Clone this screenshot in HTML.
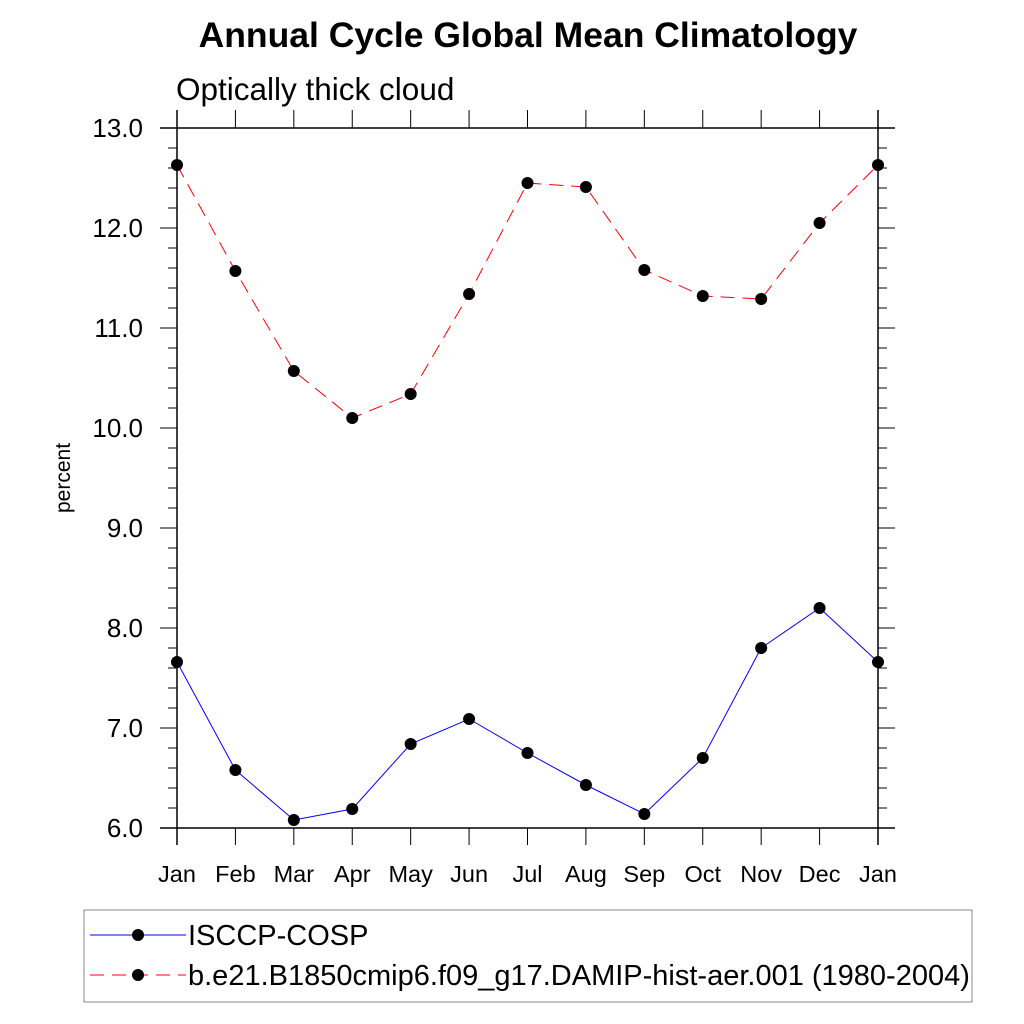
<!DOCTYPE html>
<html><head><meta charset="utf-8"><style>body{margin:0;background:#fff}svg{display:block;font-family:"Liberation Sans",sans-serif}</style></head>
<body>
<svg id="c" width="1024" height="1024" viewBox="0 0 1024 1024">
<text x="528" y="47" text-anchor="middle" font-size="35.5" font-weight="bold">Annual Cycle Global Mean Climatology</text>
<text x="176" y="100" font-size="31.5">Optically thick cloud</text>
<text transform="translate(70,478) rotate(-90)" text-anchor="middle" font-size="21">percent</text>
<g id="axes"></g><g id="series"></g>
<rect x="84" y="910" width="888" height="92" fill="#fff" stroke="#888" stroke-width="1"/>
<g>
<line x1="90" y1="935" x2="186" y2="935" stroke="#00f" stroke-width="1"/><circle cx="138" cy="935" r="6" fill="#000"/>
<text x="188" y="945" font-size="29">ISCCP-COSP</text></g>
<g>
<line x1="90" y1="975" x2="186" y2="975" stroke="#f00" stroke-width="1" stroke-dasharray="14,8"/><circle cx="138" cy="975" r="6" fill="#000"/>
<text x="188" y="985" font-size="29">b.e21.B1850cmip6.f09_g17.DAMIP-hist-aer.001 (1980-2004)</text></g>
</svg>
<script>
const months=["Jan","Feb","Mar","Apr","May","Jun","Jul","Aug","Sep","Oct","Nov","Dec","Jan"];
const yTicks=["6.0","7.0","8.0","9.0","10.0","11.0","12.0","13.0"];
const obsValues=[7.66,6.58,6.08,6.19,6.84,7.09,6.75,6.43,6.14,6.70,7.80,8.20,7.66];
const modelValues=[12.63,11.57,10.57,10.10,10.34,11.34,12.45,12.41,11.58,11.32,11.29,12.05,12.63];
const NS="http://www.w3.org/2000/svg";
const L=177,R=878,T=128,B=828,ymin=6,ymax=13;
const X=i=>L+(R-L)*i/(months.length-1);
const Y=v=>B-(v-ymin)/(ymax-ymin)*(B-T);
function mk(p,t,a){const e=document.createElementNS(NS,t);for(const k in a)e.setAttribute(k,a[k]);p.appendChild(e);return e;}
const ax=document.getElementById('axes');
let e;
e=mk(ax,'line',{x1:160,y1:T,x2:895,y2:T,stroke:'#000','stroke-width':1.5});

e=mk(ax,'line',{x1:160,y1:B,x2:895,y2:B,stroke:'#000','stroke-width':1.5});

e=mk(ax,'line',{x1:L,y1:110,x2:L,y2:845,stroke:'#000','stroke-width':1.5});

e=mk(ax,'line',{x1:R,y1:110,x2:R,y2:845,stroke:'#000','stroke-width':1.5});

months.forEach((m,i)=>{const x=X(i);
mk(ax,'line',{x1:x,y1:110,x2:x,y2:T,stroke:'#000'});
mk(ax,'line',{x1:x,y1:B,x2:x,y2:845,stroke:'#000'});
e=mk(ax,'text',{x:x,y:882,'text-anchor':'middle','font-size':23.5});e.textContent=m;
});
for(let v=ymin;v<=ymax+1e-9;v+=0.2){const y=Y(v);const maj=Math.abs(v-Math.round(v))<1e-6;
mk(ax,'line',{x1:maj?160:168,y1:y,x2:L,y2:y,stroke:'#000'});
mk(ax,'line',{x1:R,y1:y,x2:maj?895:887,y2:y,stroke:'#000'});}
yTicks.forEach(t=>{e=mk(ax,'text',{x:143,y:Y(parseFloat(t))+9,'text-anchor':'end','font-size':26});e.textContent=t;
});
const sg=document.getElementById('series');
function series(vals,color,dash,name){
e=mk(sg,'polyline',{points:vals.map((v,i)=>X(i)+','+Y(v)).join(' '),fill:'none',stroke:color,'stroke-width':1,'stroke-dasharray':dash});

vals.forEach((v,i)=>{e=mk(sg,'circle',{cx:X(i),cy:Y(v),r:6,fill:'#000'});
});}
series(modelValues,'#f00','14,8','model');
series(obsValues,'#00f','none','isccp');
</script>
</body></html>
